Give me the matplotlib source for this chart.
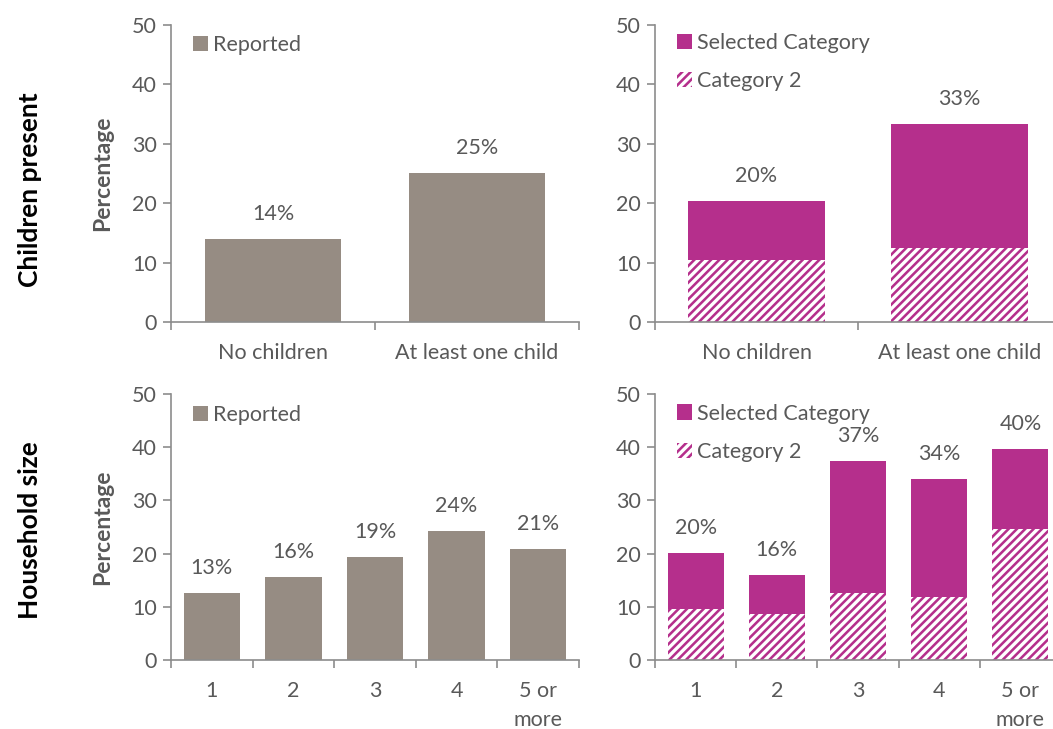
import matplotlib
matplotlib.use("Agg")
import matplotlib.pyplot as plt
import numpy as np
from matplotlib.patches import Patch

plt.rcParams['font.family'] = ['Lato', 'DejaVu Sans']
plt.rcParams['hatch.linewidth'] = 2.4

GREY = '#968c83'
MAGENTA = '#b52f8c'
AXIS = '#8c8c8c'
TEXT = '#595959'
FS = 15.5

# children present
child_cats = ['No children', 'At least one child']
child_reported = [14.0, 25.1]
child_selected = [20.4, 33.3]
child_cat2 = [10.4, 12.5]

# household size
size_cats = ['1', '2', '3', '4', '5 or\nmore']
size_reported = [12.6, 15.6, 19.4, 24.2, 20.9]
size_selected = [20.1, 16.0, 37.4, 34.0, 39.7]
size_cat2 = [9.6, 8.6, 12.6, 11.8, 24.6]

W, H = 1053, 729
fig = plt.figure(figsize=(W / 100, H / 100), dpi=100)


def px_axes(x0, x1, y_top, y_bottom):
    return fig.add_axes([x0 / W, (H - y_bottom) / H, (x1 - x0) / W, (y_bottom - y_top) / H])


def style(ax, cats):
    n = len(cats)
    ax.set_xlim(-0.5, n - 0.5)
    ax.set_ylim(0, 50)
    ax.set_yticks([0, 10, 20, 30, 40, 50])
    ax.set_xticks(range(n))
    ax.set_xticklabels(cats, linespacing=1.55)
    ax.set_xticks(np.arange(n + 1) - 0.5, minor=True)
    ax.tick_params(axis='x', which='major', length=0, pad=15, labelsize=FS, labelcolor=TEXT)
    ax.tick_params(axis='x', which='minor', length=6, width=1.2, color=AXIS, direction='out')
    ax.tick_params(axis='y', length=6, width=1.2, color=AXIS, labelsize=FS, labelcolor=TEXT, pad=4)
    for s in ['top', 'right']:
        ax.spines[s].set_visible(False)
    for s in ['left', 'bottom']:
        ax.spines[s].set_color(AXIS)
        ax.spines[s].set_linewidth(1.2)


def labels(ax, tops):
    for i, v in enumerate(tops):
        ax.annotate('%d%%' % round(v), (i, v), xytext=(0, 11), textcoords='offset points',
                    ha='center', va='bottom', fontsize=FS, color=TEXT)


def reported_panel(ax, cats, vals, width):
    ax.bar(range(len(cats)), vals, width=width, color=GREY)
    style(ax, cats)
    labels(ax, vals)
    ax.legend(handles=[Patch(facecolor=GREY, label='Reported')], loc='upper left',
              bbox_to_anchor=(0.0, 1.04), frameon=False, fontsize=FS, labelcolor=TEXT,
              handlelength=0.7, handleheight=0.7, handletextpad=0.25, borderaxespad=0.6)
    ax.set_ylabel('Percentage', fontsize=16.5, fontweight='bold', color=TEXT, labelpad=14)


def category_panel(ax, cats, sel, cat2, width):
    x = range(len(cats))
    ax.bar(x, sel, width=width, color=MAGENTA)
    ax.bar(x, cat2, width=width, color=MAGENTA, edgecolor='white', hatch='////', linewidth=0)
    style(ax, cats)
    labels(ax, sel)
    handles = [Patch(facecolor=MAGENTA, label='Selected Category'),
               Patch(facecolor=MAGENTA, edgecolor='white', hatch='////', linewidth=0, label='Category 2')]
    ax.legend(handles=handles, loc='upper left', bbox_to_anchor=(0.0, 1.045), frameon=False,
              fontsize=FS, labelcolor=TEXT, handlelength=0.7, handleheight=0.7,
              handletextpad=0.25, labelspacing=0.85, borderaxespad=0.6)


ax1 = px_axes(171, 579, 25, 322)
reported_panel(ax1, child_cats, child_reported, 0.67)
ax2 = px_axes(655, 1061, 25, 322)
category_panel(ax2, child_cats, child_selected, child_cat2, 0.67)
ax3 = px_axes(171, 579, 394, 660)
reported_panel(ax3, size_cats, size_reported, 0.69)
ax4 = px_axes(655, 1061, 394, 660)
category_panel(ax4, size_cats, size_selected, size_cat2, 0.69)

fig.text(30 / W, 1 - 190 / H, 'Children present', rotation=90, ha='center', va='center',
         fontsize=19, fontweight='bold', color='black')
fig.text(30 / W, 1 - 530 / H, 'Household size', rotation=90, ha='center', va='center',
         fontsize=19, fontweight='bold', color='black')

fig.savefig('out.png', dpi=100)
